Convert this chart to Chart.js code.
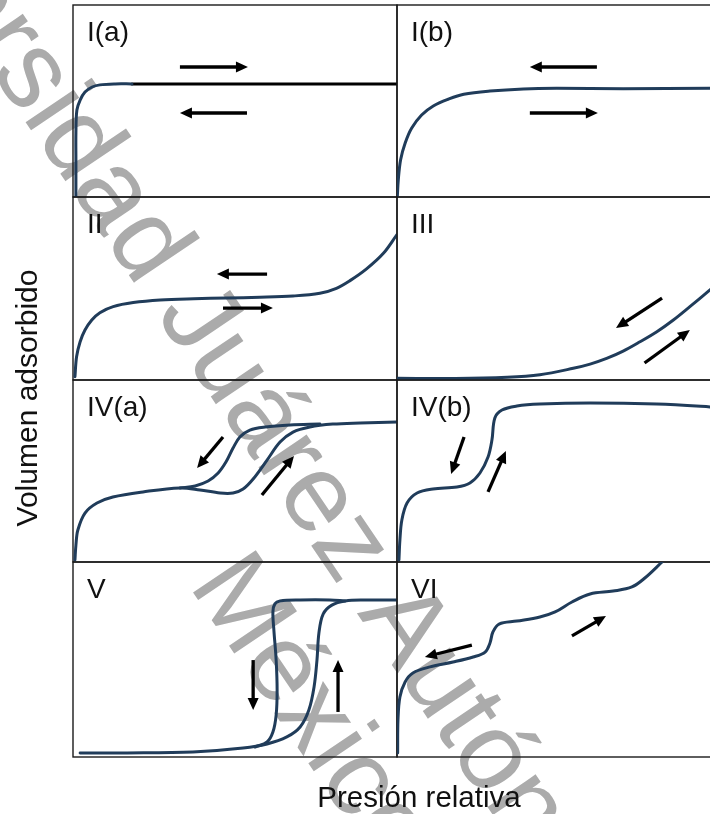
<!DOCTYPE html>
<html lang="es">
<head>
<meta charset="utf-8">
<title>Tipos de isotermas de adsorción</title>
<script src="https://cdn.jsdelivr.net/npm/chart.js@4.4.1/dist/chart.umd.min.js"></script>
<style>
  html, body { margin: 0; padding: 0; width: 710px; height: 814px; overflow: hidden; background: #ffffff; }
  #stage { position: relative; width: 710px; height: 814px; overflow: hidden; }
  #stage canvas { position: absolute; }
</style>
</head>
<body>
<div id="stage">
  <canvas id="fondo" width="710" height="814" style="left:0;top:0"></canvas>
</div>
<script>
// ---------------- datos (presión relativa 0–1, volumen adsorbido 0–100) ----------------
const panelLabels = ['I(a)', 'I(b)', 'II', 'III', 'IV(a)', 'IV(b)', 'V', 'VI'];
const xTitle = 'Presión relativa';
const yTitle = 'Volumen adsorbido';
const watermarkLines = ['Universidad ', 'Juárez Autónoma', 'México'];

// Tipo I(a)
const ia_p = [0.009, 0.009, 0.009, 0.012, 0.022, 0.037, 0.059, 0.083, 0.13, 0.182];
const ia_v = [0, 19.3, 33.3, 45.3, 50.5, 54.7, 57.3, 58.4, 58.9, 58.9];
const iaPlateau_p = [0.182, 1.0];
const iaPlateau_v = [58.9, 58.9];
const ia_arrows = [[0.330, 67.7, 0.540, 67.7], [0.537, 43.75, 0.330, 43.75]];

// Tipo I(b)
const ib_p = [0.001, 0.004, 0.011, 0.025, 0.045, 0.076, 0.112, 0.158, 0.206, 0.287, 0.390, 0.493, 0.698, 0.966, 1.0];
const ib_v = [0.2, 8.9, 19.3, 28, 35.8, 42.7, 47.4, 50.9, 53.5, 55.2, 56.3, 56.6, 56.4, 56.6, 56.6];
const ib_arrows = [[0.617, 67.7, 0.410, 67.7], [0.410, 43.75, 0.620, 43.75]];

// Tipo II
const ii_p = [0.006, 0.011, 0.022, 0.037, 0.058, 0.083, 0.124, 0.186, 0.269, 0.373, 0.474, 0.577, 0.679, 0.762, 0.813, 0.855, 0.906, 0.958, 1.0];
const ii_v = [1.8, 12.7, 20.9, 27.3, 32.8, 36.8, 40.1, 42.3, 43.7, 44.4, 44.8, 45.2, 45.9, 47.4, 50.1, 54.3, 60.7, 69.2, 79.5];
const ii_arrows = [[0.599, 57.9, 0.444, 57.9], [0.463, 39.3, 0.617, 39.3]];

// Tipo III
const iii_p = [0.0, 0.18, 0.34, 0.441, 0.544, 0.596, 0.647, 0.698, 0.750, 0.802, 0.853, 0.904, 0.966, 1.0];
const iii_v = [0.9, 0.8, 1.5, 2.9, 6.4, 8.7, 11.8, 15.8, 20.9, 26.4, 32.8, 40.1, 49.2, 54];
const iii_arrows = [[0.818, 44.8, 0.676, 28.4], [0.764, 9.3, 0.904, 27.3]];

// Tipo IV(a): adsorción y desorción (lazo de histéresis)
const iva_ads_p = [0.006, 0.009, 0.015, 0.037, 0.074, 0.123, 0.216, 0.330, 0.392, 0.454, 0.494, 0.525, 0.556, 0.599, 0.639, 0.679, 0.731, 0.802, 0.886, 1.0];
const iva_ads_v = [1.1, 9.3, 17.6, 26.9, 32.4, 35.7, 38.5, 40.7, 39.6, 37.9, 37.9, 40.1, 45.6, 56, 65.9, 71.4, 74.2, 75.8, 76.4, 76.9];
const iva_des_p = [0.330, 0.377, 0.417, 0.448, 0.472, 0.494, 0.515, 0.546, 0.593, 0.670, 0.762];
const iva_des_v = [40.7, 41.8, 44.5, 48.9, 54.9, 62.6, 68.7, 72.5, 74.2, 75.3, 75.8];
const iva_arrows = [[0.463, 68.7, 0.383, 51.6], [0.583, 36.8, 0.682, 58.2]];

// Tipo IV(b)
const ivb_p = [0.006, 0.009, 0.015, 0.031, 0.062, 0.111, 0.185, 0.225, 0.256, 0.281, 0.293, 0.302, 0.324, 0.370, 0.441, 0.596, 0.802, 0.966, 1.0];
const ivb_v = [1.1, 12.1, 23.1, 32.4, 37.9, 40.1, 41.2, 43.4, 48.9, 57.7, 67, 79.1, 83.5, 85.7, 86.8, 87.4, 86.8, 85.2, 84.6];
const ivb_arrows = [[0.207, 68.7, 0.167, 48.4], [0.281, 38.5, 0.336, 61]];

// Tipo V: adsorción y desorción
const v_ads_p = [0.022, 0.167, 0.370, 0.525, 0.599, 0.660, 0.701, 0.728, 0.744, 0.753, 0.759, 0.772, 0.799, 0.840, 0.901, 1.0];
const v_ads_v = [2.1, 2.1, 2.6, 4.6, 6.7, 10.3, 15.4, 24.1, 35.9, 49.7, 63.6, 73.3, 77.9, 80, 80.5, 80.5];
const v_des_p = [0.840, 0.793, 0.701, 0.639, 0.623, 0.617, 0.620, 0.627, 0.630, 0.627, 0.617, 0.599, 0.562];
const v_des_v = [80, 80.5, 80.5, 80, 78.5, 74.4, 65.1, 49.7, 34.4, 21.5, 12.8, 7.7, 5.1];
const v_arrows = [[0.556, 49.7, 0.556, 24.1], [0.818, 23.1, 0.818, 49.7]];

// Tipo VI (escalonada)
const vi_p = [0.002, 0.003, 0.009, 0.025, 0.049, 0.102, 0.173, 0.235, 0.272, 0.287, 0.296, 0.315, 0.370, 0.441, 0.488, 0.540, 0.596, 0.667, 0.725, 0.765, 0.818];
const vi_v = [2.1, 19, 30.8, 38.5, 43.1, 46.2, 48.7, 51.3, 53.8, 58.5, 64.1, 68.2, 69.7, 71.8, 74.4, 79.5, 83.6, 85.1, 87.2, 91.8, 100];
const vi_arrows = [[0.231, 57.4, 0.086, 51.3], [0.540, 62.1, 0.645, 72.3]];

// ---------------- estilo y disposición ----------------
const CURVE = '#203c5a';
const INK = '#111111';
const FONT = '"Liberation Sans", Arial, Helvetica, sans-serif';
const PAD = 8;
const colLeft = [73, 397];
const colWidth = 324;
const rowTop = [5, 197, 380, 562];
const rowBottom = [197, 380, 562, 757];

const pts = (p, v) => p.map((x, i) => ({ x, y: v[i] }));
const curve = (p, v, color) => ({
  data: pts(p, v), showLine: true, borderColor: color || CURVE, borderWidth: 3,
  pointRadius: 0, tension: 0.35, fill: false, borderCapStyle: 'round', borderJoinStyle: 'round'
});

const panels = [
  { row: 0, col: 0, series: [curve(ia_p, ia_v), curve(iaPlateau_p, iaPlateau_v, '#000000')], arrows: ia_arrows },
  { row: 0, col: 1, series: [curve(ib_p, ib_v)], arrows: ib_arrows },
  { row: 1, col: 0, series: [curve(ii_p, ii_v)], arrows: ii_arrows },
  { row: 1, col: 1, series: [curve(iii_p, iii_v)], arrows: iii_arrows },
  { row: 2, col: 0, series: [curve(iva_ads_p, iva_ads_v), curve(iva_des_p, iva_des_v)], arrows: iva_arrows },
  { row: 2, col: 1, series: [curve(ivb_p, ivb_v)], arrows: ivb_arrows },
  { row: 3, col: 0, series: [curve(v_ads_p, v_ads_v), curve(v_des_p, v_des_v)], arrows: v_arrows },
  { row: 3, col: 1, series: [curve(vi_p, vi_v)], arrows: vi_arrows }
];

function drawArrow(ctx, x0, y0, x1, y1) {
  const ang = Math.atan2(y1 - y0, x1 - x0);
  const headLen = 12, headHalf = 5.5;
  const bx = x1 - headLen * Math.cos(ang), by = y1 - headLen * Math.sin(ang);
  ctx.beginPath();
  ctx.moveTo(x0, y0);
  ctx.lineTo(bx + Math.cos(ang), by + Math.sin(ang));
  ctx.lineWidth = 3.3;
  ctx.strokeStyle = '#000';
  ctx.lineCap = 'butt';
  ctx.stroke();
  ctx.beginPath();
  ctx.moveTo(x1, y1);
  ctx.lineTo(bx - headHalf * Math.sin(ang), by + headHalf * Math.cos(ang));
  ctx.lineTo(bx + headHalf * Math.sin(ang), by - headHalf * Math.cos(ang));
  ctx.closePath();
  ctx.fillStyle = '#000';
  ctx.fill();
}

// marco, rótulo y flechas de cada gráfico
const panelDecor = {
  id: 'panelDecor',
  beforeDatasetsDraw(chart, args, opts) {
    const { ctx, chartArea: a } = chart;
    ctx.save();
    ctx.strokeStyle = '#1a1a1a';
    ctx.lineWidth = 1.4;
    ctx.strokeRect(a.left, a.top, a.right - a.left, a.bottom - a.top);
    ctx.fillStyle = INK;
    ctx.font = '28px ' + FONT;
    ctx.textBaseline = 'alphabetic';
    ctx.textAlign = 'left';
    ctx.fillText(opts.label, a.left + 14, a.top + 36);
    ctx.restore();
  },
  afterDatasetsDraw(chart, args, opts) {
    const { ctx, scales: { x, y } } = chart;
    ctx.save();
    opts.arrows.forEach(([p0, v0, p1, v1]) => {
      drawArrow(ctx, x.getPixelForValue(p0), y.getPixelForValue(v0), x.getPixelForValue(p1), y.getPixelForValue(v1));
    });
    ctx.restore();
  }
};

const stage = document.getElementById('stage');
panels.forEach((pn, i) => {
  const w = colWidth, h = rowBottom[pn.row] - rowTop[pn.row];
  const cv = document.createElement('canvas');
  cv.width = w + 2 * PAD;
  cv.height = h + 2 * PAD;
  cv.style.left = (colLeft[pn.col] - PAD) + 'px';
  cv.style.top = (rowTop[pn.row] - PAD) + 'px';
  stage.appendChild(cv);
  new Chart(cv, {
    type: 'scatter',
    data: { datasets: pn.series },
    options: {
      responsive: false,
      animation: false,
      events: [],
      layout: { padding: PAD },
      plugins: {
        legend: { display: false },
        tooltip: { enabled: false },
        panelDecor: { label: panelLabels[i], arrows: pn.arrows }
      },
      scales: {
        x: { type: 'linear', min: 0, max: 1, display: false },
        y: { type: 'linear', min: 0, max: 100, display: false }
      }
    },
    plugins: [panelDecor]
  });
});

// fondo: marca de agua y títulos de los ejes
(function () {
  const ctx = document.getElementById('fondo').getContext('2d');
  const ang = 56 * Math.PI / 180;
  ctx.fillStyle = '#ababab';
  ctx.font = '110px ' + FONT;
  ctx.textBaseline = 'alphabetic';
  ctx.save();
  ctx.translate(155, 314);
  ctx.rotate(ang);
  ctx.textAlign = 'right';
  ctx.fillText(watermarkLines[0], 0, 0);
  ctx.textAlign = 'left';
  ctx.fillText(watermarkLines[1], 0, 0);
  ctx.restore();
  ctx.save();
  ctx.translate(188, 585);
  ctx.rotate(ang);
  ctx.textAlign = 'left';
  ctx.fillText(watermarkLines[2], 0, 0);
  ctx.restore();

  ctx.fillStyle = INK;
  ctx.font = '29.5px ' + FONT;
  ctx.textAlign = 'center';
  ctx.fillText(xTitle, 419, 807);
  ctx.save();
  ctx.translate(37, 398);
  ctx.rotate(-Math.PI / 2);
  ctx.font = '30px ' + FONT;
  ctx.fillText(yTitle, 0, 0);
  ctx.restore();
})();
</script>
</body>
</html>
